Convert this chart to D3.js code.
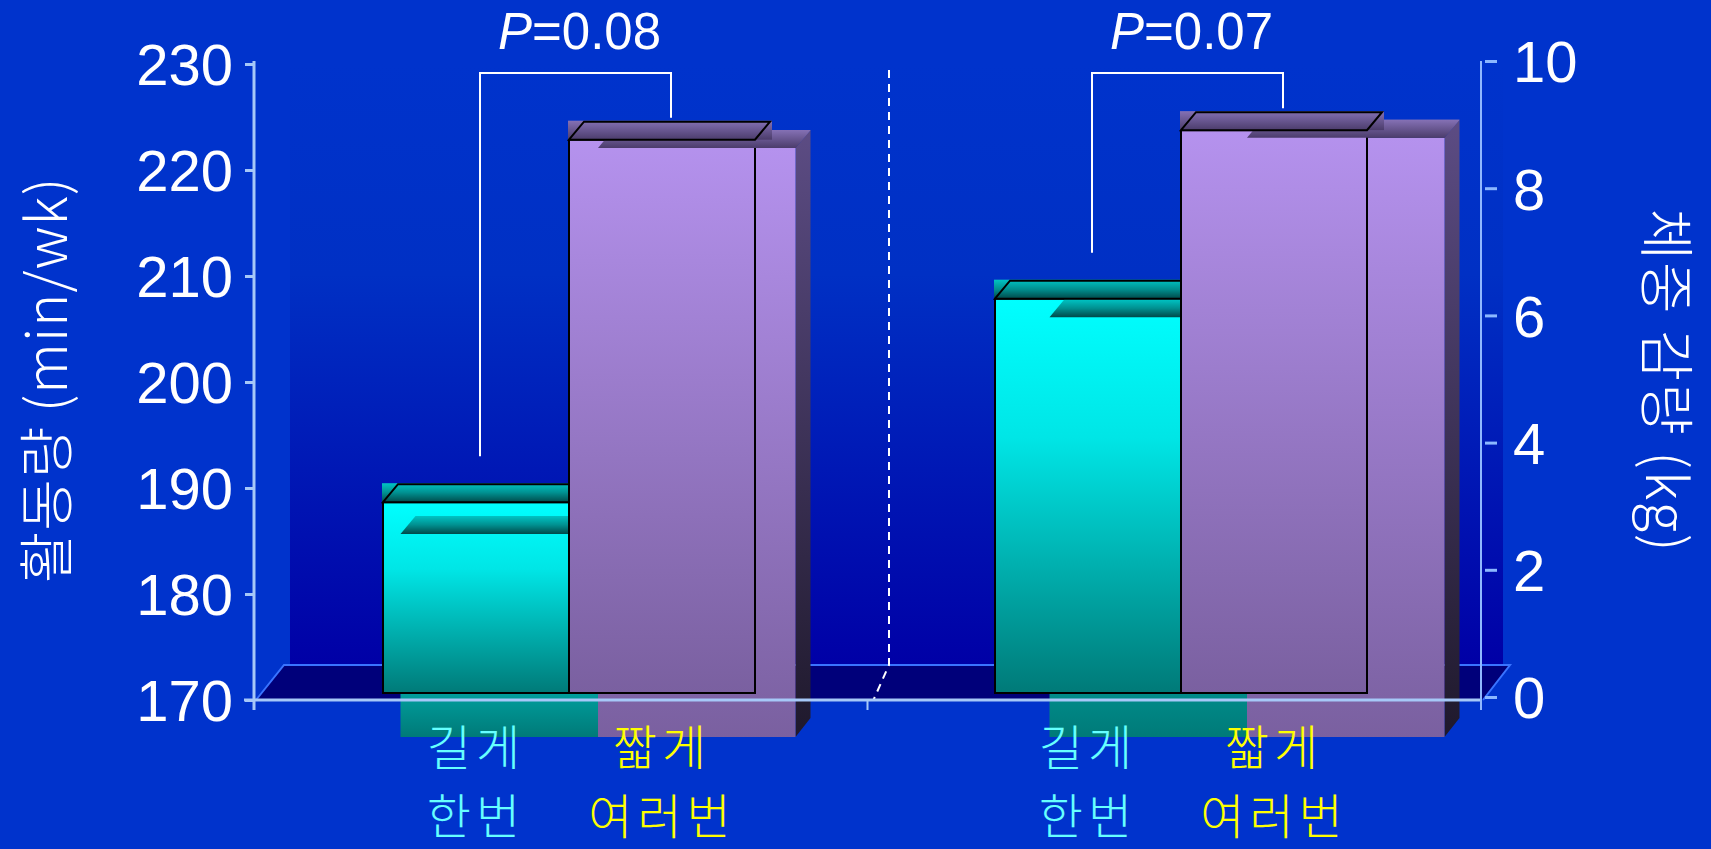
<!DOCTYPE html>
<html>
<head>
<meta charset="utf-8">
<script src="https://cdn.jsdelivr.net/npm/d3@7"></script>
<style>
  html, body { margin: 0; padding: 0; background: #0033CC; overflow: hidden; }
  svg { display: block; }
</style>
</head>
<body>
<svg id="chart" width="1711" height="849"></svg>
<script>
// ---- data ----
const groups = ["activity", "weight"];
const series = ["long", "short"];
const seriesLabels = [["길게", "한번"], ["짧게", "여러번"]];
const seriesLabelColors = ["#66FFFF", "#FFFF00"];
const activityMinPerWk = [188.0, 222.2];   // 활동량 (min/wk), left axis
const weightLossKg = [6.2, 8.85];           // 체중 감량 (kg), right axis
const pLabels = ["0.08", "0.07"];
const leftTicks = [170, 180, 190, 200, 210, 220, 230];
const rightTicks = [0, 2, 4, 6, 8, 10];
const leftTitle = "활동량 (min/wk)";
const rightTitle = "체중 감량 (kg)";

const svg = d3.select("#chart");
const W = 1711, H = 849;
const NUM_FONT = "'Liberation Sans', Arial, sans-serif";
const KR_FONT = "'Noto Sans CJK KR', 'Noto Sans', sans-serif";

// ---- scales ----
const yLeft = d3.scaleLinear().domain([170, 230]).range([700, 64]);
const yRight = d3.scaleLinear().domain([0, 10]).range([697, 61]);

// front (outlined) bars and the deeper 3D bars behind them
const yFront = [d3.scaleLinear().domain([170, 230]).range([693, 57]),
                d3.scaleLinear().domain([0, 10]).range([693, 57])];
const yBack = [d3.scaleLinear().domain([170, 230]).range([737, 60]),
               d3.scaleLinear().domain([0, 10]).range([737, 60])];
const groupValues = [activityMinPerWk, weightLossKg];

const xAxisBand = d3.scaleBand().domain(groups).range([254, 1481]).padding(0);
const xFront = d3.scaleBand().domain(groups).range([263, 1487]).padding(0);
const xFrontSub = d3.scaleBand().domain(series).range([-186, 186]).padding(0);
const xBack = d3.scaleBand().domain(groups).range([273.5, 1571.5]).padding(0);
const xBackSub = d3.scaleBand().domain(series).range([-197.5, 197.5]).padding(0);

const DX = 15, DY = 18;   // 3D depth offset

// ---- gradients ----
const defs = svg.append("defs");
function vGrad(id, stops) {
  const g = defs.append("linearGradient").attr("id", id)
    .attr("x1", 0).attr("y1", 0).attr("x2", 0).attr("y2", 1);
  stops.forEach(([o, c]) => g.append("stop").attr("offset", o).attr("stop-color", c));
}
vGrad("wall", [[0, "#0033CC"], [0.35, "#0030C4"], [1, "#0000A6"]]);
vGrad("frontCyan", [[0, "#00FFFF"], [0.35, "#00E6E6"], [1, "#007A78"]]);
vGrad("frontPurple", [[0, "#B592EE"], [1, "#7A60A0"]]);
vGrad("topCyan", [[0, "#00C4C4"], [0.5, "#009090"], [1, "#004A4A"]]);
vGrad("topPurple", [[0, "#8571B5"], [1, "#4B3C6B"]]);
vGrad("sidePurple", [[0, "#5C4C84"], [1, "#1F192C"]]);
vGrad("sideCyan", [[0, "#006868"], [1, "#002020"]]);
const frontFill = ["url(#frontCyan)", "url(#frontPurple)"];
const topFill = ["url(#topCyan)", "url(#topPurple)"];
const sideFill = ["url(#sideCyan)", "url(#sidePurple)"];

// ---- background, wall and floor ----
svg.append("rect").attr("width", W).attr("height", H).attr("fill", "#0033CC");

const floorBack = 665, floorFront = yLeft(170);
const wallLeft = 290, wallRight = 1503;
svg.append("rect").attr("x", wallLeft).attr("y", yLeft(230))
  .attr("width", wallRight - wallLeft).attr("height", floorBack - yLeft(230))
  .attr("fill", "url(#wall)");

const floorPts = [[xAxisBand.range()[0] + 2, floorFront], [284, floorBack],
                  [1510, floorBack], [xAxisBand.range()[1] + 2, floorFront]];
svg.append("polygon").attr("points", floorPts.map(p => p.join(",")).join(" "))
  .attr("fill", "#00007A");
svg.append("polyline")
  .attr("points", floorPts.map(p => p.join(",")).join(" "))
  .attr("fill", "none").attr("stroke", "#3A74FF").attr("stroke-width", 2);

// dashed divider between the two panels
const divX = 889;
svg.append("polyline")
  .attr("points", `${divX},${yLeft(230) + 6} ${divX},${floorBack} ${xAxisBand(groups[1]) + 6},${floorFront}`)
  .attr("fill", "none").attr("stroke", "#FFFFFF").attr("stroke-width", 2)
  .attr("stroke-dasharray", "8,6");

// ---- bars ----
const barsLayer = svg.append("g");

function backBar(g, gi, si, part) {
  const v = groupValues[gi][si];
  const sc = yBack[gi];
  const x0 = xBack(g) + xBack.bandwidth() / 2 + xBackSub(series[si]);
  const w = xBackSub.bandwidth();
  const yT = sc(v), yB = sc(sc.domain()[0]);
  if (part === "body") {
    barsLayer.append("polygon")
      .attr("points", `${x0 + w},${yT} ${x0 + w + DX},${yT - DY} ${x0 + w + DX},${yB - DY - 1} ${x0 + w},${yB}`)
      .attr("fill", sideFill[si]);
    barsLayer.append("rect").attr("x", x0).attr("y", yT).attr("width", w).attr("height", yB - yT)
      .attr("fill", frontFill[si]);
  }
  barsLayer.append("polygon")
    .attr("points", `${x0},${yT} ${x0 + DX},${yT - DY} ${x0 + w + DX},${yT - DY} ${x0 + w},${yT}`)
    .attr("fill", topFill[si]);
}

function frontBar(g, gi, si) {
  const v = groupValues[gi][si];
  const sc = yFront[gi];
  const x0 = xFront(g) + xFront.bandwidth() / 2 + xFrontSub(series[si]);
  const w = xFrontSub.bandwidth();
  const yT = sc(v), yB = sc(sc.domain()[0]);
  barsLayer.append("rect").attr("x", x0).attr("y", yT).attr("width", w).attr("height", yB - yT)
    .attr("fill", frontFill[si]).attr("stroke", "#000").attr("stroke-width", 2);
  return { x0, w, yT };
}

function frontTop(b, si) {
  barsLayer.append("rect").attr("x", b.x0 - 1).attr("y", b.yT - DY - 1)
    .attr("width", b.w + DX + 3).attr("height", DY + 1).attr("fill", topFill[si]);
  barsLayer.append("polygon")
    .attr("points", `${b.x0},${b.yT} ${b.x0 + DX},${b.yT - DY} ${b.x0 + b.w + DX},${b.yT - DY} ${b.x0 + b.w},${b.yT}`)
    .attr("fill", "none").attr("stroke", "#000").attr("stroke-width", 2).attr("stroke-linejoin", "miter");
}

const frontBars = [];
groups.forEach((g, gi) => {
  backBar(g, gi, 0, "body");
  backBar(g, gi, 1, "body");
  const b0 = frontBar(g, gi, 0);
  backBar(g, gi, 0, "top");
  frontTop(b0, 0);
  const b1 = frontBar(g, gi, 1);
  backBar(g, gi, 1, "top");
  frontTop(b1, 1);
  frontBars.push([b0, b1]);
});

// ---- axes ----
const axisColor = "#A6C8F8";
// bottom baseline (front edge of the floor)
svg.append("line").attr("x1", xAxisBand.range()[0] - 10).attr("x2", xAxisBand.range()[1])
  .attr("y1", floorFront).attr("y2", floorFront)
  .attr("stroke", axisColor).attr("stroke-width", 3);
// category boundary ticks
const bTicks = [xAxisBand.range()[0], xAxisBand(groups[1]), xAxisBand.range()[1]];
svg.selectAll(".btick").data(bTicks).join("line")
  .attr("x1", d => d).attr("x2", d => d)
  .attr("y1", floorFront).attr("y2", floorFront + 10)
  .attr("stroke", axisColor).attr("stroke-width", 2);

// left axis
const leftAxis = d3.axisLeft(yLeft).tickValues(leftTicks).tickSize(9).tickPadding(12);
const gL = svg.append("g").attr("transform", `translate(${xAxisBand.range()[0]},0)`).call(leftAxis);
gL.select(".domain").attr("d", `M0,${yLeft(230) - 3}V${floorFront + 10}`)
  .attr("stroke", axisColor).attr("stroke-width", 3);
gL.selectAll(".tick line").attr("stroke", axisColor).attr("stroke-width", 3);
gL.selectAll(".tick text").attr("fill", "#FFFFFF").attr("font-family", NUM_FONT)
  .attr("font-size", 58).attr("dy", "0.36em");

// right axis
const rightAxisX = xAxisBand.range()[1];
const rightAxis = d3.axisRight(yRight).tickValues(rightTicks).tickSize(0).tickPadding(32);
const gR = svg.append("g").attr("transform", `translate(${rightAxisX},0)`).call(rightAxis);
gR.select(".domain").attr("d", `M0,${yRight(10)}V${floorFront + 10}`)
  .attr("stroke", "#90B8FF").attr("stroke-width", 2);
gR.selectAll(".tick").append("line")
  .attr("x1", 4).attr("x2", 16).attr("y1", 0).attr("y2", 0)
  .attr("stroke", "#8CB8FF").attr("stroke-width", 3);
gR.selectAll(".tick text").attr("fill", "#FFFFFF").attr("font-family", NUM_FONT)
  .attr("font-size", 58).attr("dy", "0.36em");

// ---- significance brackets ----
const bracketTop = 73;
frontBars.forEach(([b0, b1], gi) => {
  const xl = b0.x0 + b0.w / 2 + 4;
  const xr = b1.x0 + b1.w / 2 + 9;
  const yl = b0.yT - 46;
  const yr = b1.yT - 22;
  svg.append("polyline")
    .attr("points", `${xl},${yl} ${xl},${bracketTop} ${xr},${bracketTop} ${xr},${yr}`)
    .attr("fill", "none").attr("stroke", "#FFFFFF").attr("stroke-width", 2);
  const t = svg.append("text").attr("x", (xl + xr) / 2 + 4).attr("y", 49)
    .attr("text-anchor", "middle").attr("fill", "#FFFFFF")
    .attr("font-family", NUM_FONT).attr("font-size", 51);
  t.append("tspan").attr("font-style", "italic").text("P");
  t.append("tspan").text("=" + pLabels[gi]);
});

// ---- category labels (two lines each) ----
frontBars.forEach(pair => {
  pair.forEach((b, si) => {
    seriesLabels[si].forEach((line, li) => {
      svg.append("text").attr("text-anchor", "middle")
        .attr("x", b.x0 + b.w / 2).attr("y", 765 + li * 69)
        .attr("fill", seriesLabelColors[si]).attr("font-family", KR_FONT)
        .attr("font-weight", 300).attr("font-size", 48).attr("letter-spacing", 5)
        .text(line);
    });
  });
});

// ---- axis titles ----
svg.append("text").attr("transform", "translate(42,380) rotate(-90)")
  .attr("text-anchor", "middle").attr("dominant-baseline", "central")
  .attr("fill", "#FFFFFF").attr("font-family", KR_FONT).attr("font-weight", 300)
  .attr("font-size", 56).attr("letter-spacing", 1)
  .text(leftTitle);
svg.append("text").attr("transform", "translate(1670,381) rotate(90)")
  .attr("text-anchor", "middle").attr("dominant-baseline", "central")
  .attr("fill", "#FFFFFF").attr("font-family", KR_FONT).attr("font-weight", 300)
  .attr("font-size", 56).attr("letter-spacing", 2)
  .text(rightTitle);
</script>
</body>
</html>
